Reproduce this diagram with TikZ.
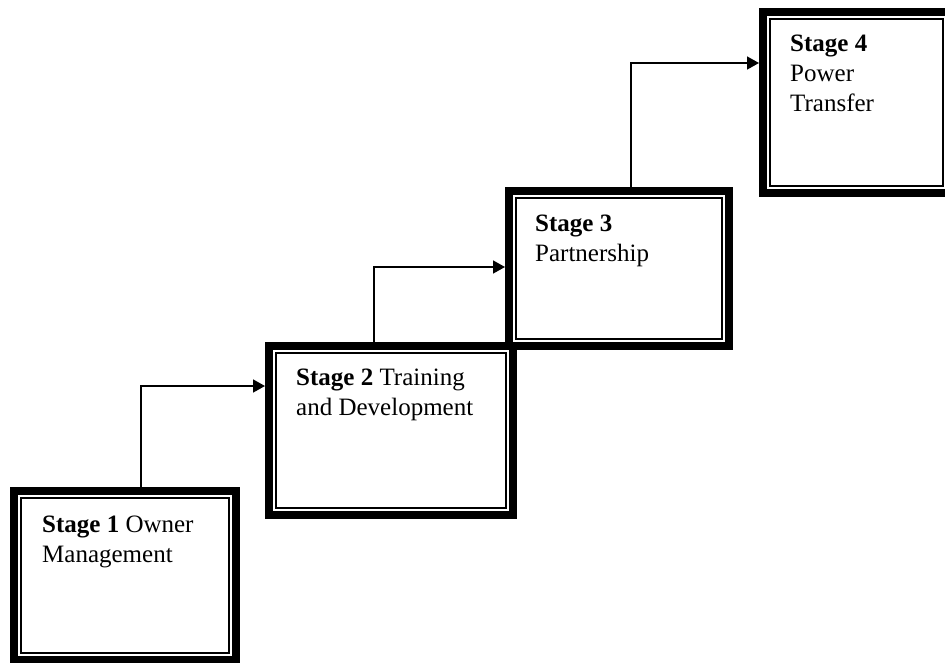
\documentclass[tikz,border=0pt]{standalone}
\usepackage{fontspec}
\setmainfont{Liberation Serif}
\usetikzlibrary{arrows.meta}
\tikzset{
  stagebox/.style={draw=black, line width=8pt, outer sep=4pt, inner sep=0pt, rectangle, anchor=north west},
  innerline/.style={draw=black, line width=1.6pt},
  stagetext/.style={anchor=base west, align=left, inner sep=0pt, font=\fontsize{25}{30}\selectfont},
  conn/.style={draw=black, line width=1.6pt, -{Triangle[length=12pt,width=13pt]}}
}
\newcommand{\innerrect}[1]{\draw[innerline] ([shift={(11pt,-11pt)}]#1.north west) rectangle ([shift={(-11pt,11pt)}]#1.south east);}
\begin{document}
\begin{tikzpicture}[x=1pt,y=-1pt]
\useasboundingbox (0,0) rectangle (945,662);
% boxes
\node[stagebox, minimum width=222pt, minimum height=169pt] (s1) at (10,487) {};
\node[stagebox, minimum width=244pt, minimum height=169pt] (s2) at (265,342) {};
\node[stagebox, minimum width=220pt, minimum height=155pt] (s3) at (505,187) {};
\node[stagebox, minimum width=187pt, minimum height=181pt] (s4) at (759,8) {};
\innerrect{s1}
\innerrect{s2}
\innerrect{s3}
\innerrect{s4}
% texts (anchored at the baseline of their last line)
\node[stagetext] (t1) at (42,562) {\textbf{Stage 1} Owner\\Management};
\node[stagetext] (t2) at (296,415) {\textbf{Stage 2} Training\\and Development};
\node[stagetext] (t3) at (535,261) {\textbf{Stage 3}\\Partnership};
\node[stagetext] (t4) at (790,111) {\textbf{Stage 4}\\Power\\Transfer};
% connectors
\coordinate (c1) at (141,386);
\coordinate (c2) at (374,267);
\coordinate (c3) at (631,63);
\draw[conn] (s1.north -| c1) |- (s2.west |- c1);
\draw[conn] (s2.north -| c2) |- (s3.west |- c2);
\draw[conn] (s3.north -| c3) |- (s4.west |- c3);
\end{tikzpicture}
\end{document}
